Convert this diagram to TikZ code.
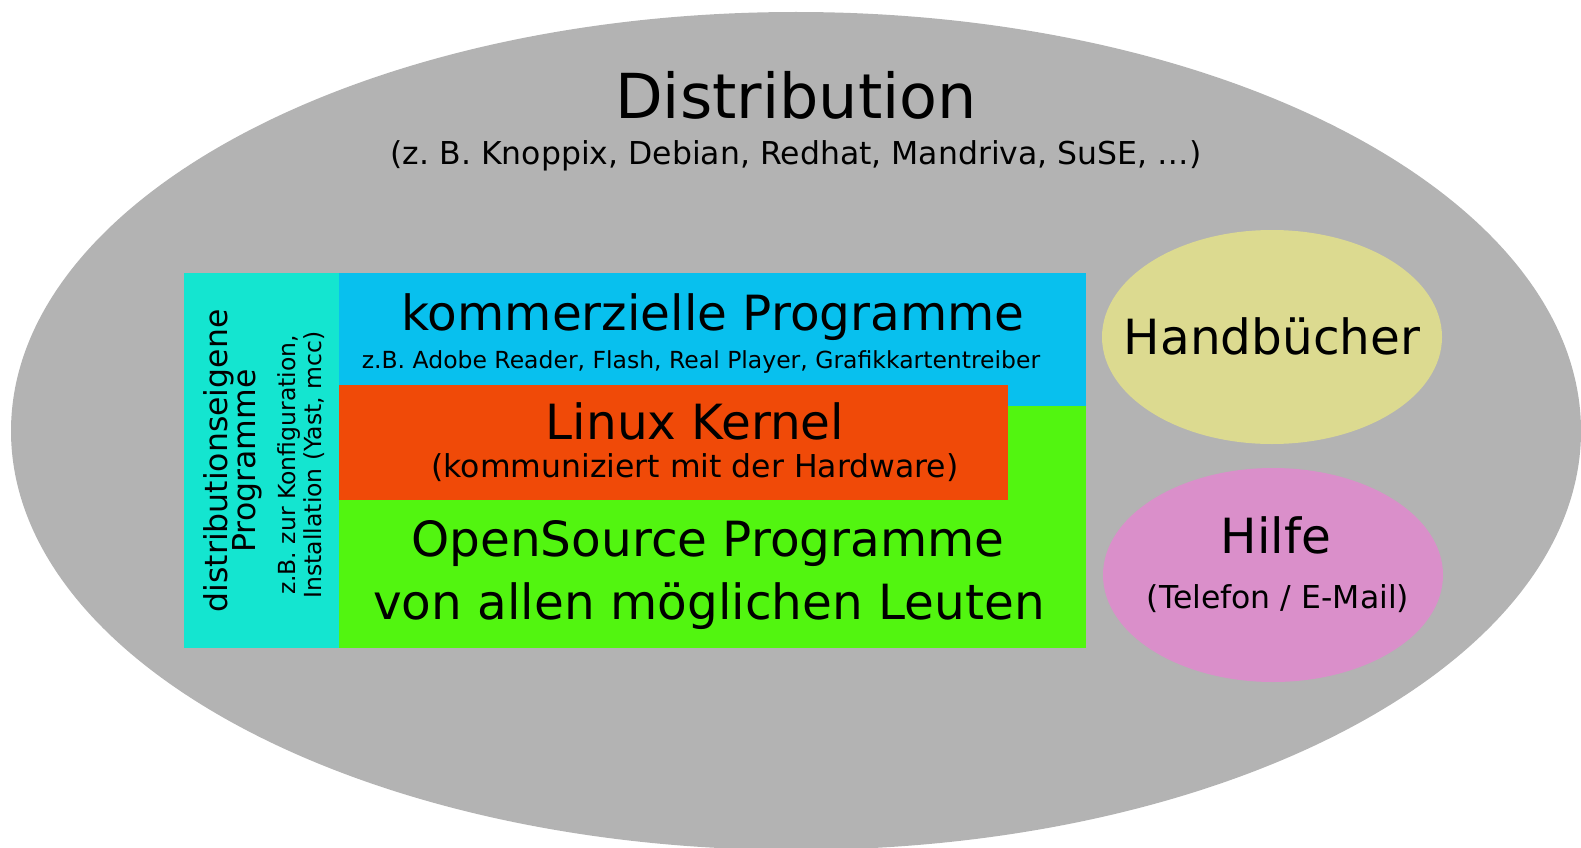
\documentclass[tikz,border=0pt]{standalone}
\usepackage{fontspec}
\setmainfont{DejaVu Sans}
\frenchspacing
\definecolor{distgray}{HTML}{B3B3B3}
\definecolor{eigencyan}{HTML}{14E5D0}
\definecolor{kommblue}{HTML}{08C0EE}
\definecolor{kernelred}{HTML}{F04A08}
\definecolor{opengreen}{HTML}{52F510}
\definecolor{buchyellow}{HTML}{DCDA90}
\definecolor{hilfepink}{HTML}{DA8FCA}
\begin{document}
\begin{tikzpicture}[x=1pt,y=-1pt,
    title/.style={font=\fontsize{62}{74}\selectfont,anchor=base},
    big/.style={font=\fontsize{48.5}{58}\selectfont,anchor=base},
    sub/.style={font=\fontsize{31.5}{38}\selectfont,anchor=base},
    smalltext/.style={font=\fontsize{23.5}{28}\selectfont,anchor=base}]
  \useasboundingbox (0,0) rectangle (1581,848);
  \clip (0,0) rectangle (1581,848);
  % background
  \fill[distgray] (796,431) ellipse [x radius=785, y radius=419];
  \fill[eigencyan] (184,273) rectangle (339,648);
  \fill[kommblue] (339,273) rectangle (1086,406);
  \fill[opengreen] (339,406) rectangle (1086,648);
  \fill[kernelred] (339,385) rectangle (1008,500);
  \fill[buchyellow] (1272,337) ellipse [x radius=170, y radius=107];
  \fill[hilfepink] (1273,575) ellipse [x radius=170, y radius=107];
  % texts
  \node[title] (dist) at (796,118) {Distribution};
  \node[sub] (distsub) at (796,164) {(z. B. Knoppix, Debian, Redhat, Mandriva, SuSE, …)};
  \node[big] (komm) at (713,330) {kommerzielle Programme};
  \node[smalltext] (kommsub) at (701,368) {z.B. Adobe Reader, Flash, Real Player, Grafikkartentreiber};
  \node[big] (kernel) at (695,439) {Linux Kernel};
  \node[sub] (kernelsub) at (695,477) {(kommuniziert mit der Hardware)};
  \node[big] (open) at (708,556) {OpenSource Programme};
  \node[big] (openb) at (709,619) {von allen möglichen Leuten};
  \node[big] (buch) at (1272,354) {Handbücher};
  \node[big] (hilfe) at (1276,553) {Hilfe};
  \node[sub] (hilfesub) at (1278,608) {(Telefon / E-Mail)};
  \node[sub,rotate=90] (eigen) at (227,461) {distributionseigene};
  \node[sub,rotate=90] (eigenb) at (255,461) {Programme};
  \node[smalltext,rotate=90] (eigensub) at (295,465) {z.B. zur Konfiguration,};
  \node[smalltext,rotate=90] (eigensubb) at (321,465) {Installation (Yast, mcc)};
\end{tikzpicture}
\end{document}
